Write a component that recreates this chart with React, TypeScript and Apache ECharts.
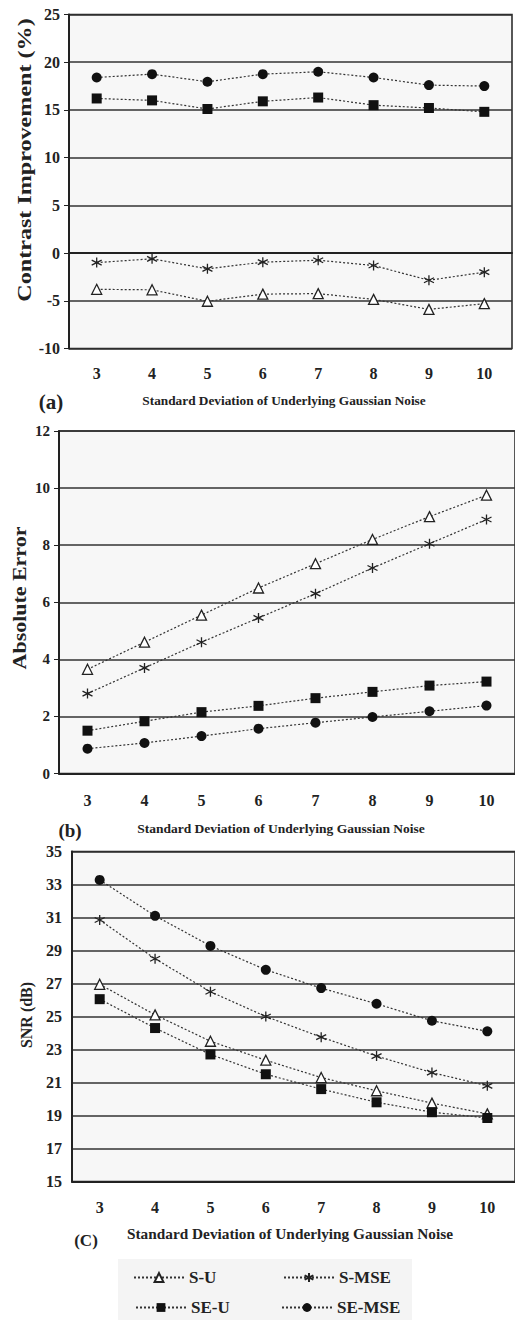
import React, { useEffect, useRef } from 'react';
import * as echarts from 'echarts';

// ---- data ----
const categories = ['3', '4', '5', '6', '7', '8', '9', '10'];
const seriesNames = ['S-U', 'S-MSE', 'SE-U', 'SE-MSE'];

// (a) Contrast Improvement (%)
const contrastSU = [-3.8, -3.85, -5.05, -4.3, -4.25, -4.85, -5.9, -5.3];
const contrastSMSE = [-1.0, -0.6, -1.65, -0.95, -0.75, -1.3, -2.85, -2.0];
const contrastSEU = [16.2, 16.0, 15.1, 15.9, 16.3, 15.5, 15.2, 14.8];
const contrastSEMSE = [18.4, 18.75, 17.95, 18.75, 19.0, 18.4, 17.6, 17.5];

// (b) Absolute Error
const errorSU = [3.65, 4.6, 5.55, 6.5, 7.35, 8.2, 9.0, 9.75];
const errorSMSE = [2.8, 3.7, 4.6, 5.45, 6.3, 7.2, 8.05, 8.9];
const errorSEU = [1.5, 1.83, 2.15, 2.37, 2.64, 2.86, 3.08, 3.22];
const errorSEMSE = [0.87, 1.07, 1.31, 1.57, 1.78, 1.98, 2.18, 2.38];

// (c) SNR (dB)
const snrSU = [26.95, 25.1, 23.5, 22.35, 21.3, 20.5, 19.75, 19.1];
const snrSMSE = [30.85, 28.5, 26.5, 25.0, 23.75, 22.6, 21.6, 20.8];
const snrSEU = [26.05, 24.3, 22.7, 21.5, 20.6, 19.8, 19.2, 18.85];
const snrSEMSE = [33.28, 31.1, 29.28, 27.83, 26.72, 25.77, 24.74, 24.1];

// axis ticks
const contrastTicks = [-10, -5, 0, 5, 10, 15, 20, 25];
const errorTicks = [0, 2, 4, 6, 8, 10, 12];
const snrTicks = [15, 17, 19, 21, 23, 25, 27, 29, 31, 33, 35];

const xTitle = 'Standard Deviation of Underlying Gaussian Noise';

const SERIF = '"Liberation Serif", "Times New Roman", serif';
const DARK = '#222';

const asteriskPath = 'path://M5,0L5,10M0.67,2.5L9.33,7.5M9.33,2.5L0.67,7.5';

const symbolStyles: Record<string, any> = {
  'S-U': { symbol: 'triangle', symbolSize: 10, itemStyle: { color: '#fff', borderColor: DARK, borderWidth: 1.3 } },
  'S-MSE': { symbol: asteriskPath, symbolSize: 10, itemStyle: { color: DARK, borderColor: DARK, borderWidth: 1.3 } },
  'SE-U': { symbol: 'rect', symbolSize: 10, itemStyle: { color: '#111', borderColor: '#111', borderWidth: 0 } },
  'SE-MSE': { symbol: 'circle', symbolSize: 10, itemStyle: { color: '#111', borderColor: '#111', borderWidth: 0 } },
};

const panels = [
  { data: [contrastSU, contrastSMSE, contrastSEU, contrastSEMSE], ticks: contrastTicks },
  { data: [errorSU, errorSMSE, errorSEU, errorSEMSE], ticks: errorTicks },
  { data: [snrSU, snrSMSE, snrSEU, snrSEMSE], ticks: snrTicks },
];

function buildOption() {
  const gridBase = { show: true, backgroundColor: '#f7f7f7', borderColor: DARK, borderWidth: 1.5 };
  const grid = [
    { ...gridBase, left: 69, top: 14.5, width: 443, height: 334 },
    { ...gridBase, left: 59, top: 431, width: 456, height: 342.5 },
    { ...gridBase, left: 72, top: 851.5, width: 449, height: 330 },
  ];
  const labelMargins = [17, 19, 18];
  const xAxis = grid.map((_, i) => ({
    type: 'category',
    gridIndex: i,
    data: categories,
    boundaryGap: true,
    axisTick: { show: false },
    axisLine: { lineStyle: { color: DARK, width: 2 } },
    axisLabel: { margin: labelMargins[i], fontFamily: SERIF, fontWeight: 'bold', fontSize: 16, color: DARK },
  }));
  const yLabel = { fontFamily: SERIF, fontWeight: 'bold', fontSize: 16, color: DARK };
  const yAxis: any[] = [
    {
      type: 'value', gridIndex: 0,
      min: contrastTicks[0], max: contrastTicks[contrastTicks.length - 1], interval: contrastTicks[1] - contrastTicks[0],
      axisLine: { show: true, lineStyle: { color: DARK, width: 2 } },
      axisTick: { show: true, length: 5, lineStyle: { color: DARK } },
      axisLabel: { ...yLabel, margin: 9 },
      splitLine: { show: true, lineStyle: { color: '#333', width: 1.5 } },
    },
    {
      type: 'value', gridIndex: 1,
      min: errorTicks[0], max: errorTicks[errorTicks.length - 1], interval: errorTicks[1] - errorTicks[0],
      axisLine: { show: true, lineStyle: { color: DARK, width: 2 } },
      axisTick: { show: true, length: 5, lineStyle: { color: DARK } },
      axisLabel: { ...yLabel, fontSize: 15, margin: 9 },
      splitLine: { show: true, lineStyle: { color: '#333', width: 1.5 } },
    },
    {
      type: 'value', gridIndex: 2,
      min: snrTicks[0], max: snrTicks[snrTicks.length - 1], interval: 1,
      axisLine: { show: true, lineStyle: { color: DARK, width: 2 } },
      axisTick: { show: false },
      axisLabel: {
        ...yLabel, margin: 10,
        formatter: (v: number) => (snrTicks.indexOf(v) >= 0 ? String(v) : ''),
      },
      splitLine: { show: true, showMinLine: true, showMaxLine: true, lineStyle: { color: ['#333', 'rgba(0,0,0,0)'], width: 1.5 } },
    },
  ];

  const series: any[] = [];
  panels.forEach((p, gi) => {
    p.data.forEach((vals, si) => {
      const name = seriesNames[si];
      series.push({
        type: 'line',
        name,
        xAxisIndex: gi,
        yAxisIndex: gi,
        data: vals,
        ...symbolStyles[name],
        showSymbol: true,
        lineStyle: { color: '#333', width: 1.2, type: [2, 2] },
        z: 3,
      });
    });
  });

  const legendText = { fontFamily: SERIF, fontWeight: 'bold', fontSize: 17, color: DARK };
  const legendBase = { orient: 'horizontal', itemWidth: 50, itemHeight: 11, itemGap: 0, padding: 0, textStyle: legendText, selectedMode: false };
  const legend = [
    { ...legendBase, data: ['S-U'], left: 133, top: 1269 },
    { ...legendBase, data: ['S-MSE'], left: 283, top: 1269 },
    { ...legendBase, data: ['SE-U'], left: 135, top: 1299 },
    { ...legendBase, data: ['SE-MSE'], left: 281, top: 1299 },
  ];

  const txt = (text: string, x: number, y: number, size: number, extra: any = {}) => ({
    type: 'text', x, y, ...extra,
    style: { text, fontFamily: SERIF, fontWeight: 'bold', fontSize: size, fill: DARK, textAlign: 'center', textVerticalAlign: 'middle' },
  });

  const graphic = [
    { type: 'rect', shape: { x: 118, y: 1259, width: 294, height: 61 }, style: { fill: '#f4f4f4' }, z: -1 },
    txt(xTitle, 284, 400, 13.3),
    txt(xTitle, 281, 828, 13.5),
    txt(xTitle, 290, 1233, 15.3),
    txt('(a)', 51, 402, 21),
    txt('(b)', 70, 830, 19),
    txt('(C)', 86, 1240, 17),
    txt('Contrast Improvement (%)', 25, 160, 18, { rotation: Math.PI / 2, scaleX: 1.34 }),
    txt('Absolute Error', 20, 598, 18, { rotation: Math.PI / 2, scaleX: 1.22 }),
    txt('SNR (dB)', 26, 1015, 16, { rotation: Math.PI / 2 }),
  ];

  return {
    animation: false,
    backgroundColor: '#fff',
    grid, xAxis, yAxis, series, legend, graphic,
  };
}

export default function App() {
  const ref = useRef<HTMLDivElement>(null);
  useEffect(() => {
    const chart = echarts.init(ref.current!, null, { renderer: 'svg' });
    chart.setOption(buildOption() as any);
    return () => chart.dispose();
  }, []);
  return (
    <div
      ref={ref}
      style={{ position: 'absolute', left: 0, top: 0, width: 515, height: 1320, background: '#fff' }}
    />
  );
}
